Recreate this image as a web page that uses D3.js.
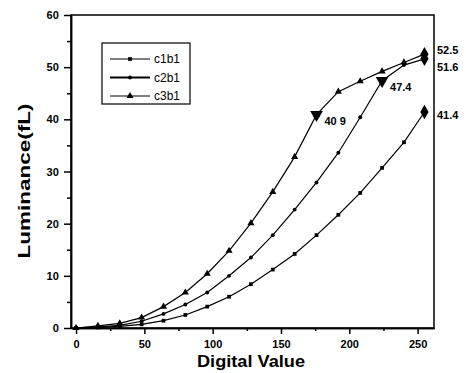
<!DOCTYPE html>
<html>
<head>
<meta charset="utf-8">
<script src="https://cdn.jsdelivr.net/npm/d3@7"></script>
<style>
  body { margin: 0; background: #fff; }
  text { font-family: Arial, "Liberation Sans", sans-serif; }
</style>
</head>
<body>
<div id="chart"></div>
<script>
// digital values where each curve was measured
const xValues = [0, 16, 32, 48, 64, 80, 96, 112, 128, 144, 160, 176, 192, 208, 224, 240, 255];
const c1b1 = [0, 0.1, 0.3, 0.7, 1.4, 2.5, 4.1, 6.0, 8.4, 11.2, 14.2, 17.8, 21.7, 25.9, 30.7, 35.6, 41.4];
const c2b1 = [0, 0.2, 0.5, 1.3, 2.7, 4.5, 6.8, 10.0, 13.5, 17.8, 22.7, 27.9, 33.6, 40.4, 47.4, 50.4, 51.6];
const c3b1 = [0, 0.4, 0.9, 2.0, 4.1, 6.8, 10.4, 14.8, 20.1, 26.1, 32.8, 40.9, 45.3, 47.3, 49.2, 50.9, 52.5];
const seriesNames = ['c1b1', 'c2b1', 'c3b1'];
const xTicks = [0, 50, 100, 150, 200, 250];
const yTicks = [0, 10, 20, 30, 40, 50, 60];
// highlighted points: [x, y, label]
const peakMarks = [[176, 40.9, '40 9'], [224, 47.4, '47.4']];
const endMarks = [[255, 52.5, '52.5'], [255, 51.6, '51.6'], [255, 41.4, '41.4']];

const W = 466, H = 373;
const margin = { top: 15, right: 32, bottom: 45, left: 71 };

const svg = d3.select('#chart').append('svg')
  .attr('width', W)
  .attr('height', H);

const xScale = d3.scaleLinear().domain([-3.7, 262]).range([margin.left, W - margin.right]);
const yScale = d3.scaleLinear().domain([0, 60]).range([H - margin.bottom, margin.top]);

// frame
svg.append('rect')
  .attr('x', margin.left)
  .attr('y', margin.top)
  .attr('width', W - margin.left - margin.right)
  .attr('height', H - margin.top - margin.bottom)
  .attr('fill', 'none')
  .attr('stroke', '#000')
  .attr('stroke-width', 1.5);

// axes
const xAxis = svg.append('g')
  .attr('transform', 'translate(0,' + (H - margin.bottom) + ')')
  .call(d3.axisBottom(xScale).tickValues(xTicks).tickSize(6).tickSizeOuter(0));
svg.append('g')
  .attr('transform', 'translate(0,' + (H - margin.bottom) + ')')
  .call(d3.axisBottom(xScale).tickValues([25, 75, 125, 175, 225]).tickSize(3).tickFormat('').tickSizeOuter(0));
const yAxis = svg.append('g')
  .attr('transform', 'translate(' + margin.left + ',0)')
  .call(d3.axisLeft(yScale).tickValues(yTicks).tickSize(7).tickSizeOuter(0));
svg.append('g')
  .attr('transform', 'translate(' + margin.left + ',0)')
  .call(d3.axisLeft(yScale).tickValues([5, 15, 25, 35, 45, 55]).tickSize(4).tickFormat('').tickSizeOuter(0));

svg.selectAll('.domain').attr('stroke-width', 1.5);
svg.selectAll('.tick line').attr('stroke-width', 1.5);
xAxis.selectAll('text').attr('font-size', 11).attr('font-weight', 'bold').attr('dy', '1.0em');
yAxis.selectAll('text').attr('font-size', 11).attr('font-weight', 'bold').attr('dx', '-0.2em');

// axis titles
svg.append('text')
  .attr('x', 251).attr('y', 367)
  .attr('text-anchor', 'middle')
  .attr('font-size', 16).attr('font-weight', 'bold')
  .attr('textLength', 108).attr('lengthAdjust', 'spacingAndGlyphs')
  .text('Digital Value');
svg.append('text')
  .attr('transform', 'translate(30,' + 181 + ') rotate(-90)')
  .attr('text-anchor', 'middle')
  .attr('font-size', 16).attr('font-weight', 'bold')
  .attr('textLength', 155).attr('lengthAdjust', 'spacingAndGlyphs')
  .text('Luminance(fL)');

const line = d3.line()
  .x(d => xScale(d[0]))
  .y(d => yScale(d[1]));

const allSeries = [c1b1, c2b1, c3b1];
const symbols = [d3.symbolSquare, d3.symbolCircle, d3.symbolTriangle];
const symSizes = [14, 12, 22];

allSeries.forEach((vals, i) => {
  const pts = xValues.map((x, j) => [x, vals[j]]);
  svg.append('path')
    .attr('d', line(pts))
    .attr('fill', 'none')
    .attr('stroke', '#000')
    .attr('stroke-width', 1.2);
  svg.selectAll('.m' + i).data(pts.slice(0, -1)).enter().append('path')
    .attr('class', 'm' + i)
    .attr('transform', d => 'translate(' + xScale(d[0]) + ',' + yScale(d[1]) + ')')
    .attr('d', d3.symbol().type(symbols[i]).size(symSizes[i]))
    .attr('fill', '#000');
});

// inverted triangles with labels
peakMarks.forEach(p => {
  svg.append('path')
    .attr('transform', 'translate(' + xScale(p[0]) + ',' + yScale(p[1]) + ') rotate(180)')
    .attr('d', d3.symbol().type(d3.symbolTriangle).size(70))
    .attr('fill', '#000');
  svg.append('text')
    .attr('x', xScale(p[0]) + 8).attr('y', yScale(p[1]) + 10)
    .attr('font-size', 11).attr('font-weight', 'bold')
    .text(p[2]);
});

// end diamonds with labels
const endDy = [0, 12, 7];
endMarks.forEach((p, i) => {
  svg.append('path')
    .attr('transform', 'translate(' + xScale(p[0]) + ',' + yScale(p[1]) + ')')
    .attr('d', d3.symbol().type(d3.symbolDiamond).size(60))
    .attr('fill', '#000');
  svg.append('text')
    .attr('x', W - margin.right + 3).attr('y', yScale(p[1]) + endDy[i])
    .attr('font-size', 11).attr('font-weight', 'bold')
    .text(p[2]);
});

// legend
const lg = svg.append('g').attr('transform', 'translate(102,43)');
lg.append('rect')
  .attr('width', 88).attr('height', 61)
  .attr('fill', '#fff').attr('stroke', '#000').attr('stroke-width', 1.2);
seriesNames.forEach((name, i) => {
  const y = 16 + i * 18.5;
  lg.append('line')
    .attr('x1', 8).attr('x2', 48).attr('y1', y).attr('y2', y)
    .attr('stroke', '#000').attr('stroke-width', i === 1 ? 1.8 : 1.2);
  lg.append('path')
    .attr('transform', 'translate(28,' + y + ')')
    .attr('d', d3.symbol().type(symbols[i]).size(symSizes[i]))
    .attr('fill', '#000');
  lg.append('text')
    .attr('x', 52).attr('y', y + 4)
    .attr('font-size', 12)
    .text(name);
});
</script>
</body>
</html>
